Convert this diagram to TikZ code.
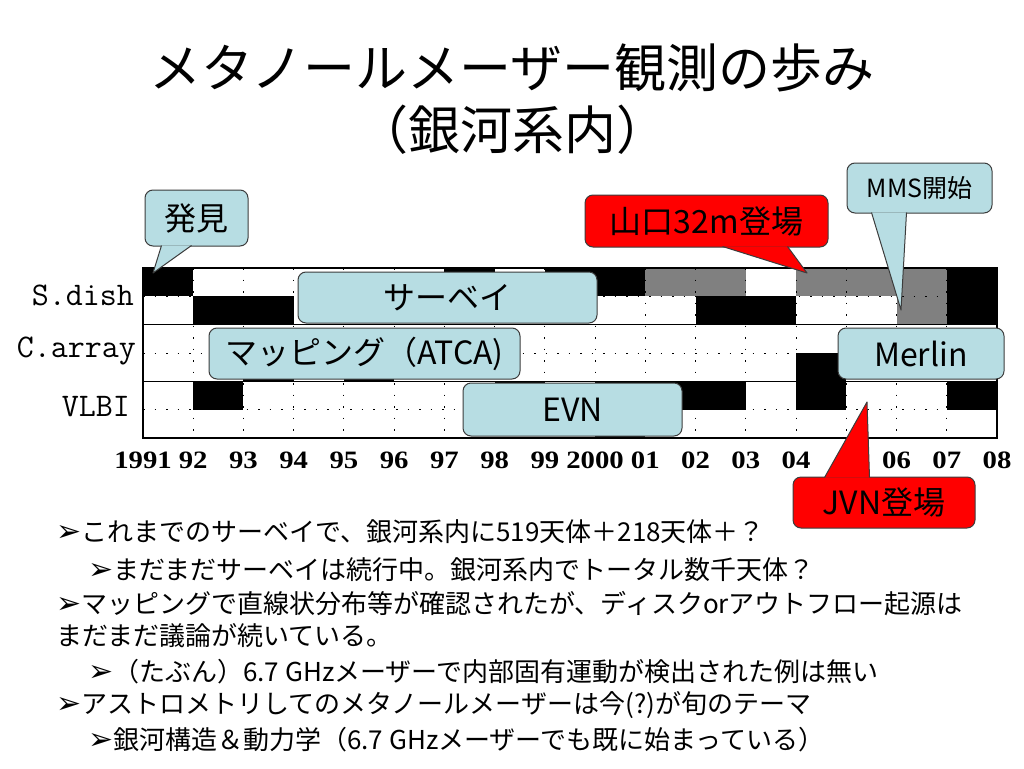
\documentclass[tikz,border=0pt]{standalone}
\usepackage{fontspec}
\setmainfont{Noto Sans CJK JP}
\newfontfamily\yearfont{Liberation Serif}
\newfontfamily\dingfont{DejaVu Sans}
\usepackage{tikz}
\definecolor{lblue}{RGB}{183,221,227}
\definecolor{edgegray}{RGB}{60,60,60}
\definecolor{bargray}{RGB}{128,128,128}
\newcommand{\bul}{{\dingfont\fontsize{30}{30}\selectfont ➢}}

\begin{document}
\begin{tikzpicture}[x=1pt,y=-1pt]
		\useasboundingbox (0,0) rectangle (1024,768);
		\tikzstyle{callbox}=[draw=edgegray,line width=1pt,rounded corners=8pt,inner sep=0pt,font=\fontsize{32}{36}\selectfont]
		\tikzstyle{edge}=[draw=edgegray,line width=1pt,line join=round]
		\tikzstyle{bullet}=[anchor=west,inner sep=0pt,font=\fontsize{26}{30}\selectfont]
		\tikzstyle{rowlab}=[anchor=east,inner sep=0pt,font=\ttfamily\fontsize{33}{36}\selectfont]
		\tikzstyle{year}=[inner sep=0pt,font=\yearfont\bfseries\fontsize{25}{28}\selectfont]
		\tikzstyle{griddots}=[line width=1pt,dash pattern=on 1.5pt off 10pt]
		% title
		\node (t_1) at (512,68) {\fontsize{52}{60}\selectfont メタノールメーザー観測の歩み};
		\node (t_2) at (512,130) {\fontsize{52}{60}\selectfont （銀河系内）};
		% chart, one unit = one year / half a row
		\begin{scope}[shift={(143,268)},x=50.235pt,y=-28.333pt]
			\foreach \a/\b/\c/\d in {0/1/0/1,6/7/0/1,8/10/0/1,16/17/0/2,1/3/1/2,11/13/1/2,2/3/3/4,4/5/3/4,13/14/3/5,1/2/4/5,7/8/4/5,9/12/4/5,9/10/5/6,16/17/4/5}
				\fill[black] (\a,\c) rectangle (\b,\d);
			\foreach \a/\b/\c/\d in {10/12/0/1,13/16/0/1,15/16/1/2}
				\fill[bargray] (\a,\c) rectangle (\b,\d);
			\foreach \x in {1,...,16}
				\draw[griddots] (\x,0) -- (\x,6);
			\foreach \y in {1,3,5}
				\draw[griddots] (0,\y) -- (17,\y);
			\draw[line width=1pt] (0,2) -- (17,2) (0,4) -- (17,4);
			\draw[line width=1.5pt] (0,0) rectangle (17,6);
			\foreach \x/\lab in {0/1991,1/92,2/93,3/94,4/95,5/96,6/97,7/98,8/99,9/2000,10/01,11/02,12/03,13/04,15/06,16/07,17/08}
				\node[year] (y_\x) at (\x,6.8) {\scalebox{1.15}[1]{\lab}};
		\end{scope}
		\node[rowlab] (r_1) at (134,295) {S.dish};
		\node[rowlab] (r_2) at (136,351) {C.array};
		\node[rowlab] (r_3) at (130,407) {VLBI};
		% boxes over the chart
		\node[callbox,fill=lblue,minimum width=299pt,minimum height=51pt] (box_1) at (447.5,297.5) {サーベイ};
		\node[callbox,fill=lblue,minimum width=311pt,minimum height=51pt] (box_2) at (364.5,353.5) {マッピング（ATCA)};
		\node[callbox,fill=lblue,minimum width=166pt,minimum height=51pt] (box_3) at (921,353.5) {Merlin};
		\node[callbox,fill=lblue,minimum width=219pt,minimum height=53pt] (box_4) at (572.5,409.5) {EVN};
		% callouts
		\node[callbox,fill=lblue,minimum width=103pt,minimum height=56pt] (call_1) at (196.5,218) {発見};
		\coordinate (tip_1) at (153,273);
		\fill[lblue] ([xshift=17pt,yshift=1pt]call_1.south west) -- (tip_1) -- ([xshift=47pt,yshift=1pt]call_1.south west) -- cycle;
		\draw[edge] ([xshift=17pt,yshift=1pt]call_1.south west) -- (tip_1) -- ([xshift=47pt,yshift=1pt]call_1.south west);
		\node[callbox,fill=red,minimum width=243pt,minimum height=52pt] (call_2) at (706.5,221) {山口32m登場};
		\coordinate (tip_2) at (807,273);
		\fill[red] ([xshift=138pt,yshift=1pt]call_2.south west) -- (tip_2) -- ([xshift=203pt,yshift=1pt]call_2.south west) -- cycle;
		\draw[edge] ([xshift=138pt,yshift=1pt]call_2.south west) -- (tip_2) -- ([xshift=203pt,yshift=1pt]call_2.south west);
		\node[callbox,fill=lblue,minimum width=145pt,minimum height=50pt,font=\fontsize{25}{28}\selectfont] (call_3) at (919.5,188) {MMS開始};
		\coordinate (tip_3) at (901,310);
		\fill[lblue] ([xshift=25pt,yshift=1pt]call_3.south west) -- (tip_3) -- ([xshift=60pt,yshift=1pt]call_3.south west) -- cycle;
		\draw[edge] ([xshift=25pt,yshift=1pt]call_3.south west) -- (tip_3) -- ([xshift=60pt,yshift=1pt]call_3.south west);
		\node[callbox,fill=red,minimum width=182pt,minimum height=51pt] (call_4) at (884,502.5) {JVN登場};
		\coordinate (tip_4) at (867,402);
		\fill[red] ([xshift=32pt,yshift=-1pt]call_4.north west) -- (tip_4) -- ([xshift=77pt,yshift=-1pt]call_4.north west) -- cycle;
		\draw[edge] ([xshift=32pt,yshift=-1pt]call_4.north west) -- (tip_4) -- ([xshift=77pt,yshift=-1pt]call_4.north west);
		% bullet text
		\node[bullet] (l_1) at (56,532) {\bul これまでのサーベイで、銀河系内に519天体＋218天体＋？};
		\node[bullet] (l_2) at (88,570) {\bul まだまだサーベイは続行中。銀河系内でトータル数千天体？};
		\node[bullet] (l_3) at (56,604) {\bul マッピングで直線状分布等が確認されたが、ディスクorアウトフロー起源は};
		\node[bullet] (l_4) at (56,636) {まだまだ議論が続いている。};
		\node[bullet] (l_5) at (88,672) {\bul （たぶん）6.7 GHzメーザーで内部固有運動が検出された例は無い};
		\node[bullet] (l_6) at (56,705) {\bul アストロメトリしてのメタノールメーザーは今(?)が旬のテーマ};
		\node[bullet] (l_7) at (88,740) {\bul 銀河構造＆動力学（6.7 GHzメーザーでも既に始まっている）};
	\end{tikzpicture}
\end{document}
